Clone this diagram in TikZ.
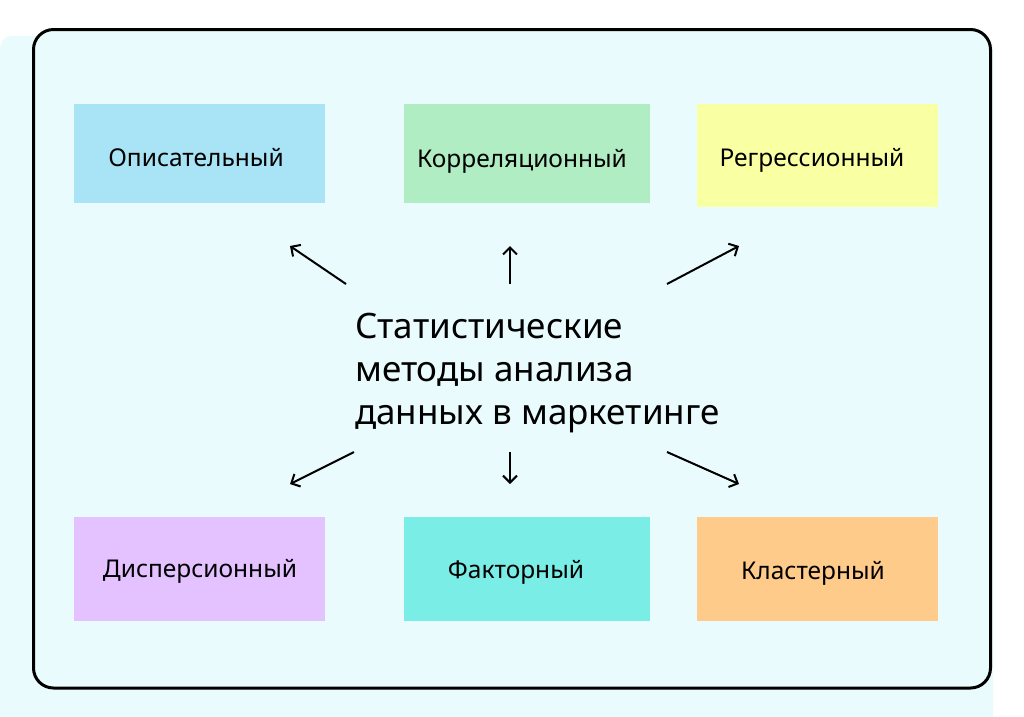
\documentclass[tikz,border=0pt]{standalone}
\usepackage{fontspec}
\setmainfont{Noto Sans}
\usetikzlibrary{arrows.meta}
\definecolor{bgc}{HTML}{EAFBFD}
\definecolor{cblue}{HTML}{A8E3F6}
\definecolor{cgreen}{HTML}{B1EDC3}
\definecolor{cyellow}{HTML}{F9FFA3}
\definecolor{cviolet}{HTML}{E4C1FF}
\definecolor{cteal}{HTML}{79EDE6}
\definecolor{corange}{HTML}{FFCB8B}
\begin{document}
\begin{tikzpicture}[x=1pt,y=-1pt,
  box/.style={draw=none, inner sep=0pt},
  lab/.style={inner sep=0pt, font=\fontsize{24.5}{28}\selectfont, text=black, text height=17.5pt, text depth=0pt},
  conn/.style={line width=2pt, -{Straight Barb[length=7pt,width=14pt]}}]
\useasboundingbox (0,0) rectangle (1024,716);
\clip (0,0) rectangle (1024,716);
\fill[white] (0,0) rectangle (1024,716);
\fill[bgc, rounded corners=12pt] (0,36) rectangle (993,760);
\draw[line width=3pt, rounded corners=20pt, fill=bgc] (33.5,29.5) rectangle (990.5,688);

\node[box, fill=cblue, minimum width=251pt, minimum height=99pt,
  label={[lab, name=t1, xshift=-3.5pt, yshift=-4.5pt]center:Описательный}] (b1) at (199.5,153.5) {};
\node[box, fill=cgreen, minimum width=246pt, minimum height=99pt,
  label={[lab, name=t2, xshift=-5pt, yshift=-5.5pt]center:Корреляционный}] (b2) at (527,153.5) {};
\node[box, fill=cyellow, minimum width=241pt, minimum height=103pt,
  label={[lab, name=t3, xshift=-5.5pt, yshift=-2.5pt]center:Регрессионный}] (b3) at (817.5,155.5) {};
\node[box, fill=cviolet, minimum width=251pt, minimum height=104pt,
  label={[lab, name=t4, xshift=0.5pt, yshift=0pt]center:Дисперсионный}] (b4) at (199.5,569) {};
\node[box, fill=cteal, minimum width=246pt, minimum height=104pt,
  label={[lab, name=t5, xshift=-11pt, yshift=-1pt]center:Факторный}] (b5) at (527,569) {};
\node[box, fill=corange, minimum width=241pt, minimum height=104pt,
  label={[lab, name=t6, xshift=-4.5pt, yshift=-2pt]center:Кластерный}] (b6) at (817.5,569) {};

\node[inner sep=0pt, anchor=north west, align=left, font=\fontsize{35}{43}\selectfont] (c) at (355,313)
  {Статистические\\методы анализа\\данных в маркетинге};

\coordinate (s1) at (346,284); \coordinate (e1) at (290,246);
\coordinate (s2) at (510,284); \coordinate (e2) at (510,246);
\coordinate (s3) at (667,284); \coordinate (e3) at (739,246);
\coordinate (s4) at (354,452); \coordinate (e4) at (290,484);
\coordinate (s5) at (510,452); \coordinate (e5) at (510,484);
\coordinate (s6) at (667,452); \coordinate (e6) at (739,484);
\foreach \i in {1,...,6} \draw[conn] (s\i) -- (e\i);
\end{tikzpicture}
\end{document}
